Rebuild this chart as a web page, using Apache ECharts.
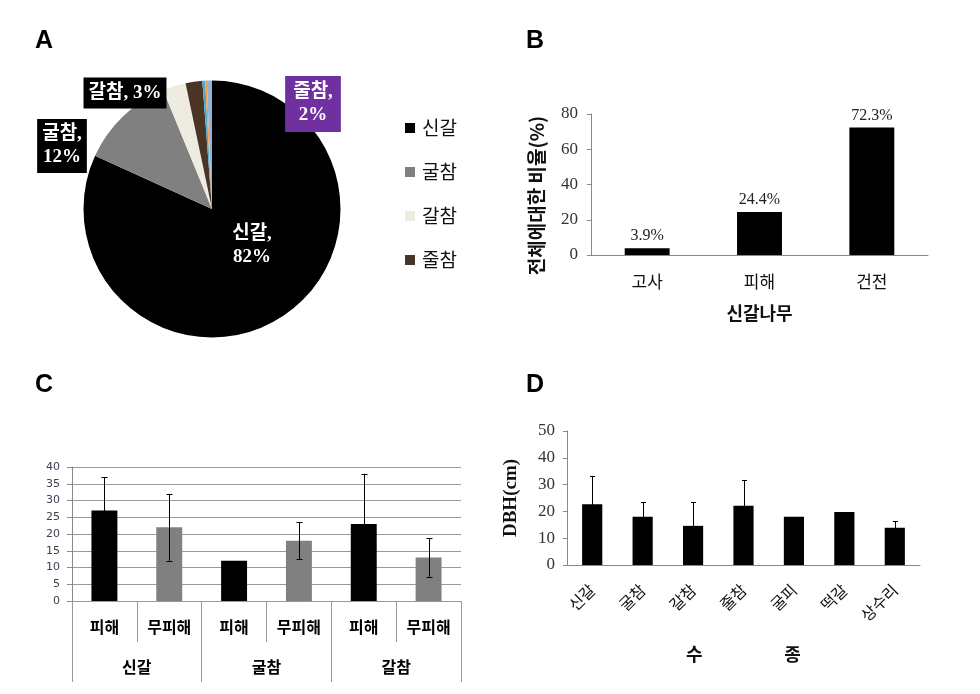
<!DOCTYPE html>
<html><head><meta charset="utf-8">
<script src="https://cdn.jsdelivr.net/npm/echarts@6/dist/echarts.min.js"></script>
<style>html,body{margin:0;padding:0;background:#fff}#c{width:980px;height:694px}</style>
</head><body><div id="c"></div>
<script>
// ---- Panel A (pie) ----
const pieNames  = ['신갈','굴참','갈참','줄참','굴피','떡갈','상수리'];
const pieValues = [81.8, 12.0, 2.9, 2.1, 0.35, 0.2, 0.65];
const pieColors = ['#000000','#808080','#EEECE1','#4A3426','#4BACC6','#F79646','#95B3D7'];
const legendNames = ['신갈','굴참','갈참','줄참'];
// ---- Panel B ----
const bCats   = ['고사','피해','건전'];
const bValues = [3.9, 24.4, 72.3];
// ---- Panel C ----
const cSubCats   = ['피해','무피해','피해','무피해','피해','무피해'];
const cGroupCats = ['신갈','굴참','갈참'];
const cValues    = [27, 22, 12, 18, 23, 13];
const cErr       = [10, 10, null, 5.6, 15, 5.8];
// ---- Panel D ----
const dCats   = ['신갈','굴참','갈참','줄참','굴피','떡갈','상수리'];
const dValues = [22.7, 18.0, 14.6, 22.1, 18.0, 19.8, 13.9];
const dErr    = [10.4, 5.5, 8.9, 9.5, null, null, 2.5];

const SERIF = '"Liberation Serif","Noto Sans CJK KR",serif';
const KR = '"Noto Sans CJK KR","Noto Sans",sans-serif';

function errData(vals, errs){
  const out = [];
  vals.forEach((v,i)=>{ if(errs[i]!=null) out.push([i, v-errs[i], v+errs[i]]); });
  return out;
}
function errRender(hw){
  return function(params, api){
    const x = api.value(0);
    const lo = api.coord([x, api.value(1)]);
    const hi = api.coord([x, api.value(2)]);
    const st = {stroke:'#000', lineWidth:1};
    const px = Math.round(hi[0]) + 0.5;
    return {type:'group', children:[
      {type:'line', shape:{x1:px,y1:hi[1],x2:px,y2:lo[1]}, style:st},
      {type:'line', shape:{x1:px-hw,y1:Math.round(hi[1])+0.5,x2:px+hw,y2:Math.round(hi[1])+0.5}, style:st},
      {type:'line', shape:{x1:px-hw,y1:Math.round(lo[1])+0.5,x2:px+hw,y2:Math.round(lo[1])+0.5}, style:st}
    ]};
  };
}

const chart = echarts.init(document.getElementById('c'), null, {renderer:'canvas'});

const labelPos = {
  '신갈': {x:252, y:246},
  '굴참': {x:62,  y:146},
  '갈참': {x:125, y:93},
  '줄참': {x:313, y:104}
};

const option = {
  animation:false,
  backgroundColor:'#fff',
  graphic:[
    {type:'text', left:35, top:29, style:{text:'A', font:'bold 25px "Liberation Sans",Arial', fill:'#000'}},
    {type:'text', left:526, top:29, style:{text:'B', font:'bold 25px "Liberation Sans",Arial', fill:'#000'}},
    {type:'text', left:35, top:373, style:{text:'C', font:'bold 25px "Liberation Sans",Arial', fill:'#000'}},
    {type:'text', left:526, top:373, style:{text:'D', font:'bold 25px "Liberation Sans",Arial', fill:'#000'}}
  ],
  legend:{
    data:legendNames, orient:'vertical', left:400, top:113,
    itemWidth:10, itemHeight:10, itemGap:24, icon:'rect',
    textStyle:{fontFamily:KR, fontSize:19, color:'#111', lineHeight:20, padding:[0,0,0,2]}
  },
  grid:[
    {left:591, top:114, width:337, height:141},
    {left:72, top:467, width:389, height:134},
    {left:567, top:431, width:353, height:134}
  ],
  xAxis:[
    {type:'category', gridIndex:0, data:bCats,
     axisLine:{lineStyle:{color:'#888'}}, axisTick:{show:false},
     axisLabel:{fontFamily:KR, fontSize:17, color:'#111', margin:18},
     name:'신갈나무', nameLocation:'middle', nameGap:49,
     nameTextStyle:{fontFamily:KR, fontSize:18, fontWeight:'bold', color:'#111'}},
    {type:'category', gridIndex:1, data:cSubCats,
     axisLine:{lineStyle:{color:'#999'}},
     axisTick:{show:true, length:41, interval:0, lineStyle:{color:'#999'}},
     axisLabel:{interval:0, fontFamily:KR, fontSize:16, fontWeight:'bold', color:'#000', margin:18}},
    {type:'category', gridIndex:1, data:cGroupCats, position:'bottom',
     axisLine:{lineStyle:{color:'#999'}},
     axisTick:{show:true, length:81, interval:0, lineStyle:{color:'#999'}},
     axisLabel:{interval:0, fontFamily:KR, fontSize:16, fontWeight:'bold', color:'#000', margin:58}},
    {type:'category', gridIndex:2, data:dCats,
     axisLine:{lineStyle:{color:'#888'}}, axisTick:{show:false},
     axisLabel:{interval:0, rotate:45, fontFamily:KR, fontSize:16, color:'#111', margin:22},
     name:'수                    종', nameLocation:'middle', nameGap:80,
     nameTextStyle:{fontFamily:KR, fontSize:18, fontWeight:'bold', color:'#111'}}
  ],
  yAxis:[
    {type:'value', gridIndex:0, min:0, max:80, interval:20,
     axisLine:{show:true, lineStyle:{color:'#888'}}, axisTick:{show:true, length:4, lineStyle:{color:'#888'}},
     splitLine:{show:false},
     axisLabel:{fontFamily:SERIF, fontSize:17, color:'#333', margin:13},
     name:'전체에대한 비율(%)', nameLocation:'middle', nameGap:45, nameRotate:90,
     nameTextStyle:{fontFamily:KR, fontSize:19, fontWeight:'bold', color:'#111', padding:[0,22,0,0]}},
    {type:'value', gridIndex:1, min:0, max:40, interval:5,
     axisLine:{show:true, lineStyle:{color:'#888'}}, axisTick:{show:true, length:5, lineStyle:{color:'#888'}},
     splitLine:{show:true, lineStyle:{color:'#999'}},
     axisLabel:{fontFamily:'"DejaVu Sans",sans-serif', fontSize:11, color:'#404050', margin:12}},
    {type:'value', gridIndex:2, min:0, max:50, interval:10,
     axisLine:{show:true, lineStyle:{color:'#888'}}, axisTick:{show:true, length:4, lineStyle:{color:'#888'}},
     splitLine:{show:false},
     axisLabel:{fontFamily:SERIF, fontSize:17, color:'#333', margin:12},
     name:'DBH(cm)', nameLocation:'middle', nameGap:46, nameRotate:90,
     nameTextStyle:{fontFamily:SERIF, fontSize:19, fontWeight:'bold', color:'#111'}}
  ],
  series:[
    {type:'pie', center:[212,209], radius:128.5, startAngle:90, clockwise:true,
     avoidLabelOverlap:false,
     data:pieNames.map((n,i)=>({name:n, value:pieValues[i], itemStyle:{color:pieColors[i]},
        label: i<4 ? {show:true} : {show:false}})),
     label:{
       show:true, position:'inside',
       formatter:(p)=> p.name==='갈참' ? p.name+', '+Math.round(p.value)+'%' : p.name+',\n'+Math.round(p.value)+'%',
       fontFamily:SERIF, fontSize:19, fontWeight:'bold', color:'#fff', lineHeight:23,
       backgroundColor:'#000', padding:[4,5,4,5], align:'center', verticalAlign:'middle'
     },
     labelLine:{show:false},
     labelLayout:(p)=>{ const q = labelPos[pieNames[p.dataIndex]]; return q ? {x:q.x, y:q.y, align:'center', verticalAlign:'middle'} : {}; },
     emphasis:{disabled:true}
    },
    {type:'bar', xAxisIndex:0, yAxisIndex:0, data:bValues, barWidth:'40%',
     itemStyle:{color:'#000'},
     label:{show:true, position:'top', distance:4, formatter:'{c}%', fontFamily:SERIF, fontSize:16, color:'#222'}},
    {type:'bar', xAxisIndex:1, yAxisIndex:1, data:cValues, barWidth:'40%',
     itemStyle:{color:(p)=> p.dataIndex%2 ? '#808080' : '#000'}},
    {type:'custom', xAxisIndex:1, yAxisIndex:1, data:errData(cValues,cErr), renderItem:errRender(3), z:5},
    {type:'bar', xAxisIndex:3, yAxisIndex:2, data:dValues, barWidth:'40%', itemStyle:{color:'#000'}},
    {type:'custom', xAxisIndex:3, yAxisIndex:2, data:errData(dValues,dErr), renderItem:errRender(2.5), z:5}
  ]
};
// pie label background colours per item
option.series[0].data[0].label = {show:true, backgroundColor:'transparent', padding:0};
option.series[0].data[3].label = {show:true, backgroundColor:'#7030A0', padding:[5,8,5,8]};
chart.setOption(option);
</script></body></html>
